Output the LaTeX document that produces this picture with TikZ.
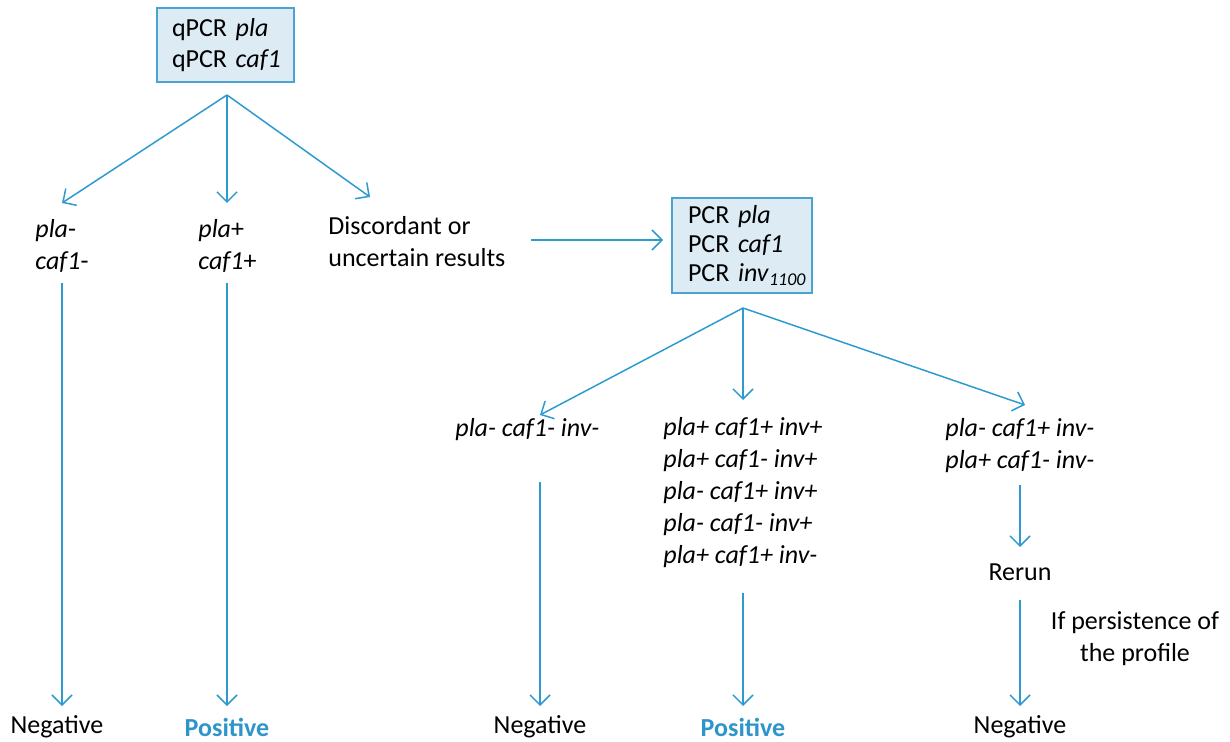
\documentclass[tikz,border=0pt]{standalone}
\usepackage{fontspec}
\setmainfont{Carlito}
\usetikzlibrary{arrows.meta}
\definecolor{arr}{HTML}{2E9BD0}
\definecolor{boxfill}{HTML}{DDEBF5}
\definecolor{boxline}{HTML}{4BA3D0}
\definecolor{pos}{HTML}{2E95CB}
\tikzset{
  conn/.style={draw=arr, line width=0.75pt, -{Straight Barb[length=5pt,width=10pt,line width=0.75pt]}},
  txt/.style={inner sep=0pt, align=left, anchor=west, font=\fontsize{13pt}{16pt}\selectfont},
  ctxt/.style={inner sep=0pt, align=center, font=\fontsize{13pt}{16pt}\selectfont},
  testbox/.style={draw=boxline, fill=boxfill, line width=0.75pt, align=left, inner ysep=0pt, inner xsep=7.5pt},
  postxt/.style={ctxt, text=pos, font=\fontsize{13pt}{16pt}\selectfont\bfseries}
}
\begin{document}
\begin{tikzpicture}[x=0.5pt,y=-0.5pt]
\useasboundingbox (0,0) rectangle (1230,742);
% boxes
\node[testbox, minimum width=68.5pt, minimum height=37pt, text width=53.5pt, font=\fontsize{13pt}{15.5pt}\selectfont] (b1) at (225.5,45) {\mbox{qPCR \textit{pla}}\\\mbox{qPCR \textit{caf1}}};
\node[testbox, minimum width=70pt, minimum height=47.5pt, text width=54pt, font=\fontsize{13pt}{14.5pt}\selectfont] (b2) at (742,245.5) {\mbox{PCR \textit{pla}}\\\mbox{PCR \textit{caf1}}\\\mbox{PCR \textit{inv}$_{\textit{\fontsize{9pt}{9pt}\selectfont 1100}}$}};
% first level texts
\node[txt] (t1) at (35,246) {\textit{pla}-\\\textit{caf1}-};
\node[txt] (t2) at (198,246) {\textit{pla}+\\\textit{caf1}+};
\node[txt] (t3) at (328,242) {Discordant or\\uncertain results};
% second level texts
\node[txt] (u1) at (455,430) {\textit{pla- caf1- inv-}};
\node[txt] (u2) at (663,493) {\textit{pla+ caf1+ inv+}\\\textit{pla+ caf1- inv+}\\\textit{pla- caf1+ inv+}\\\textit{pla- caf1- inv+}\\\textit{pla+ caf1+ inv-}};
\node[txt] (u3) at (945,446) {\textit{pla- caf1+ inv-}\\\textit{pla+ caf1- inv-}};
\node[ctxt] (rr) at (1020,572) {Rerun};
\node[ctxt] (ip) at (1135,639) {If persistence of\\the profile};
% results
\node[ctxt] (r1) at (57,727) {Negative};
\node[postxt] (r2) at (227,727) {Positive};
\node[ctxt] (r3) at (540,727) {Negative};
\node[postxt] (r4) at (743,727) {Positive};
\node[ctxt] (r5) at (1020,727) {Negative};
% coordinates
\coordinate (s1) at (227,95);
\coordinate (e1) at (62,203);
\coordinate (e2) at (227,203);
\coordinate (e3) at (370,197);
\coordinate (d0) at (531,240);
\coordinate (d1) at (663,240);
\coordinate (s2) at (743,308);
\coordinate (f1) at (540,415);
\coordinate (f2) at (743,400);
\coordinate (f3) at (1025,405);
\coordinate (v1a) at (62,283);   \coordinate (v1b) at (62,706);
\coordinate (v2a) at (227,283);  \coordinate (v2b) at (227,706);
\coordinate (v3a) at (540,482);  \coordinate (v3b) at (540,706);
\coordinate (v4a) at (743,593);  \coordinate (v4b) at (743,706);
\coordinate (v5a) at (1020,485); \coordinate (v5b) at (1020,547);
\coordinate (v6a) at (1020,600); \coordinate (v6b) at (1020,706);
% connectors
\draw[conn] (s1) -- (e1);
\draw[conn] (s1) -- (e2);
\draw[conn] (s1) -- (e3);
\draw[conn] (d0) -- (d1);
\draw[conn] (s2) -- (f1);
\draw[conn] (s2) -- (f2);
\draw[conn] (s2) -- (f3);
\draw[conn] (v1a) -- (v1b);
\draw[conn] (v2a) -- (v2b);
\draw[conn] (v3a) -- (v3b);
\draw[conn] (v4a) -- (v4b);
\draw[conn] (v5a) -- (v5b);
\draw[conn] (v6a) -- (v6b);
\end{tikzpicture}
\end{document}
